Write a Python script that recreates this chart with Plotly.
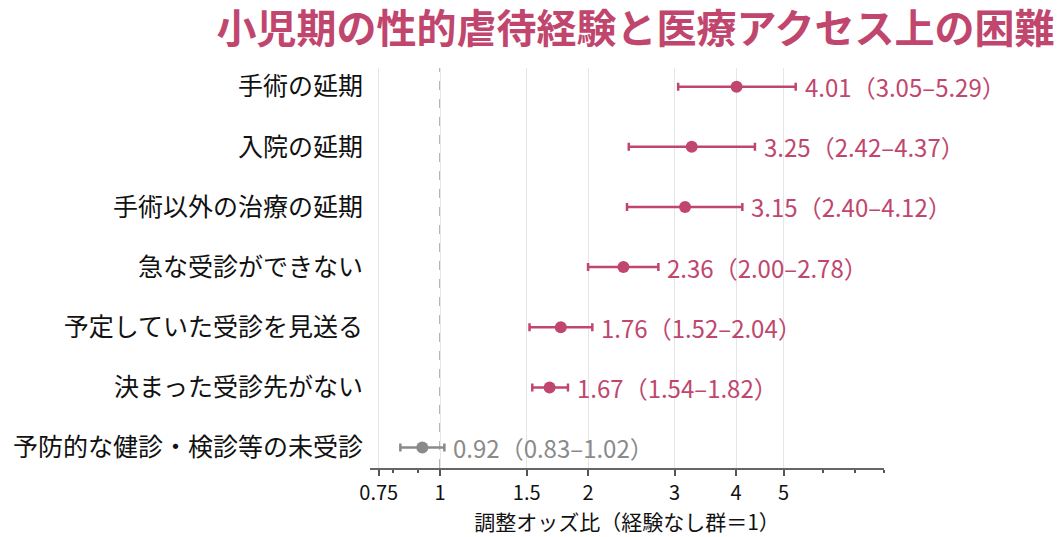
import math
import plotly.graph_objects as go

items = ["手術の延期", "入院の延期", "手術以外の治療の延期", "急な受診ができない",
         "予定していた受診を見送る", "決まった受診先がない", "予防的な健診・検診等の未受診"]
odds = [4.01, 3.25, 3.15, 2.36, 1.76, 1.67, 0.92]
lower = [3.05, 2.42, 2.40, 2.00, 1.52, 1.54, 0.83]
upper = [5.29, 4.37, 4.12, 2.78, 2.04, 1.82, 1.02]

tick_vals = [0.75, 1, 1.5, 2, 3, 4, 5]
tick_text = ["0.75", "1", "1.5", "2", "3", "4", "5"]
minor_vals = [0.8, 0.9, 6, 7, 8]

PINK = "#c0466e"
GRAY = "#8a8a8a"
FONT = "Noto Sans CJK JP"

fig = go.Figure()
for name, o, lo, hi in zip(items, odds, lower, upper):
    col = GRAY if lo < 1 < hi else PINK
    fig.add_trace(go.Scatter(
        x=[o], y=[name], mode="markers",
        marker=dict(color=col, size=12),
        error_x=dict(type="data", symmetric=False, array=[hi - o], arrayminus=[o - lo],
                     color=col, thickness=2.5, width=4),
        showlegend=False, hoverinfo="skip"))
    # annotation x on a log axis is given in log10 units
    fig.add_annotation(x=math.log10(hi), y=name, xref="x", yref="y", xanchor="left", xshift=7,
                       text=f"{o:.2f}（{lo:.2f}–{hi:.2f}）", showarrow=False,
                       font=dict(size=24, color=col, family=FONT))

fig.add_shape(type="line", x0=1, x1=1, xref="x", y0=0, y1=1, yref="paper",
              line=dict(color="#888888", width=1.5, dash="dash"), layer="below")

fig.update_xaxes(type="log", range=[-0.1427, 0.9031],
                 tickvals=tick_vals, ticktext=tick_text,
                 ticks="outside", ticklen=6, tickcolor="#555", tickwidth=1.5,
                 showline=True, linecolor="#666", linewidth=2,
                 showgrid=True, gridcolor="#e6e6e6", gridwidth=1, zeroline=False,
                 minor=dict(tickmode="array", tickvals=minor_vals, ticks="outside",
                            ticklen=3, tickcolor="#555", showgrid=False),
                 tickfont=dict(size=20, color="#111", family=FONT),
                 title=dict(text="調整オッズ比（経験なし群＝1）", standoff=4,
                            font=dict(size=21, color="#111", family=FONT)))
fig.update_yaxes(type="category", categoryorder="array", categoryarray=items,
                 range=[6.34, -0.31], showgrid=False, showline=False, zeroline=False,
                 ticks="", ticklabelstandoff=6, automargin=False,
                 tickfont=dict(size=25, color="#111", family=FONT))

fig.update_layout(
    width=1055, height=529,
    margin=dict(l=362, r=179, t=60, b=63),
    plot_bgcolor="white", paper_bgcolor="white",
    title=dict(text="<b>小児期の性的虐待経験と医療アクセス上の困難</b>",
               xref="container", x=0.992, xanchor="right",
               yref="container", y=0.96, yanchor="middle",
               font=dict(size=40, color=PINK, family=FONT)),
    font=dict(family=FONT),
)

fig.write_html("out.html")
